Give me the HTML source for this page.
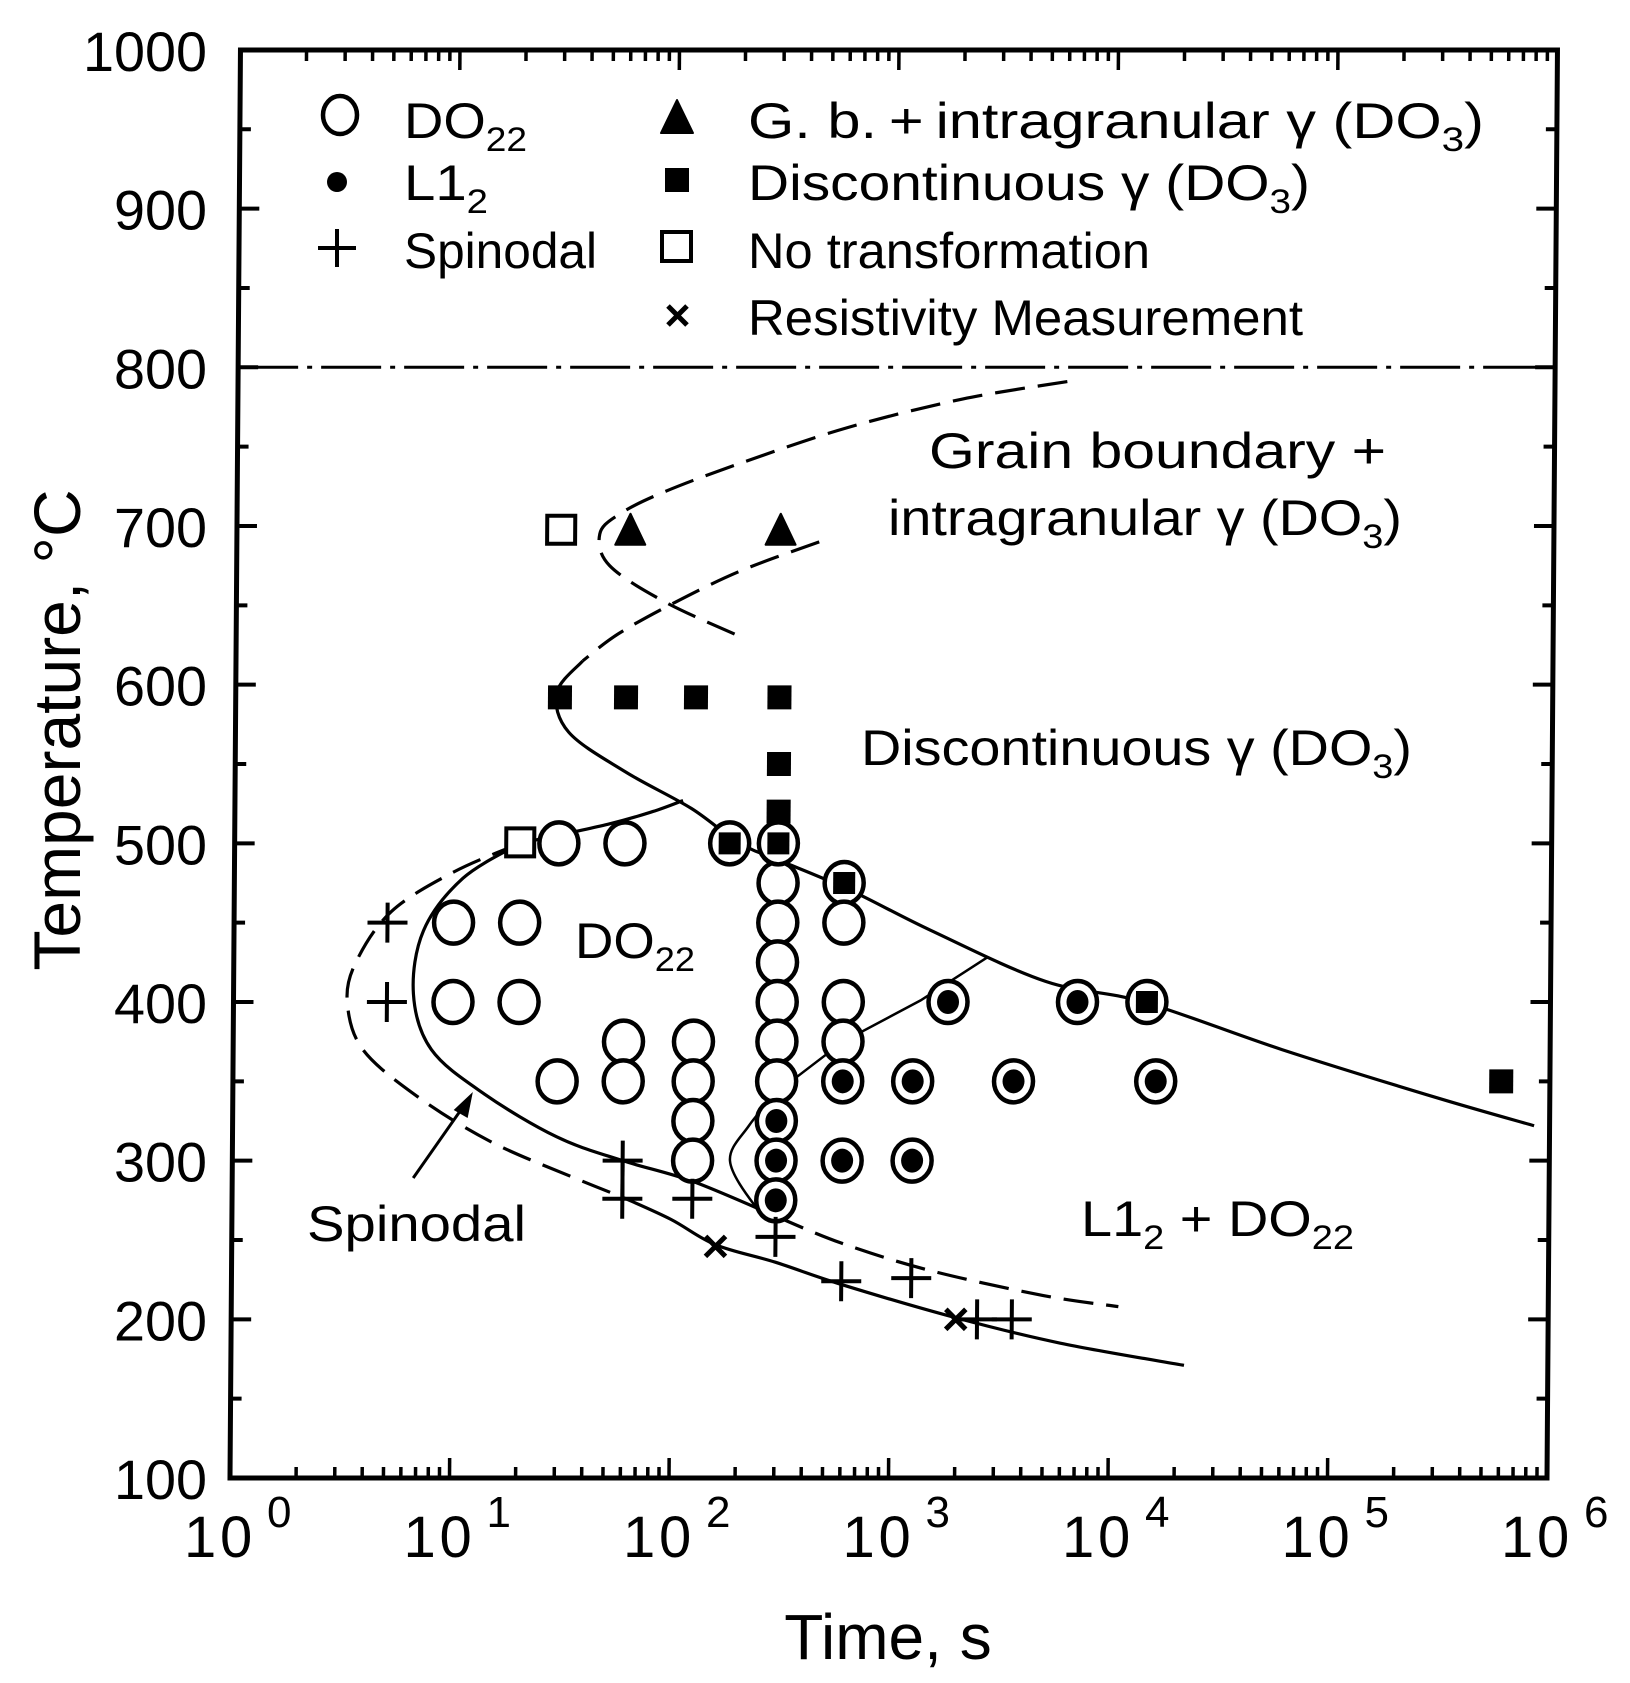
<!DOCTYPE html>
<html><head><meta charset="utf-8">
<style>
html,body{margin:0;padding:0;background:#fff;}
svg{display:block;}
text{font-family:"Liberation Sans",Arial,sans-serif;fill:#000;}
</style></head>
<body>
<svg id="c" width="1630" height="1683" viewBox="0 0 1630 1683" xmlns="http://www.w3.org/2000/svg">
<rect width="1630" height="1683" fill="#fff"/>
<g id="plot" transform="translate(0,1478) skewX(-0.42) translate(0,-1478)"></g>
<g id="labels"></g>
</svg>
<script>
const NS="http://www.w3.org/2000/svg";
const P=document.getElementById('plot');
const L=document.getElementById('labels');
const X0=230, DEC=219.5, YB=1478, YS=1.5867;
function X(t){return X0+Math.log10(t)*DEC;}
function Y(T){return YB-(T-100)*YS;}
function el(tag,attrs,parent,txt){const e=document.createElementNS(NS,tag);for(const k in attrs)e.setAttribute(k,attrs[k]);if(txt!==undefined)e.textContent=txt;(parent||P).appendChild(e);return e;}
el('rect',{x:X0,y:50,width:1317,height:1428,fill:'none',stroke:'#000','stroke-width':5});
for(let T=100;T<=1000;T+=50){const y=Y(T);const len=(T%100===0)?20:11;
 el('line',{x1:X0,y1:y,x2:X0+len,y2:y,stroke:'#000','stroke-width':4});
 el('line',{x1:1547,y1:y,x2:1547-len,y2:y,stroke:'#000','stroke-width':4});}
for(let d=0;d<6;d++){for(let m=1;m<10;m++){const x=X(m*Math.pow(10,d));const len=(m===1)?20:11;
 if(m===1&&d===0)continue;
 el('line',{x1:x,y1:YB,x2:x,y2:YB-len,stroke:'#000','stroke-width':3.5});
 el('line',{x1:x,y1:50,x2:x,y2:50+len,stroke:'#000','stroke-width':3.5});}}
el('line',{x1:X0,y1:Y(800),x2:1547,y2:Y(800),stroke:'#000','stroke-width':3,'stroke-dasharray':'60 9 5 9'});
function curve(pts,dash,w){
 const p=pts.map(a=>[X(a[0]),Y(a[1])]);
 let d='M'+p[0][0]+','+p[0][1];
 for(let i=0;i<p.length-1;i++){const p0=p[i-1]||p[i],p1=p[i],p2=p[i+1],p3=p[i+2]||p2;
  const c1=[p1[0]+(p2[0]-p0[0])/6,p1[1]+(p2[1]-p0[1])/6],c2=[p2[0]-(p3[0]-p1[0])/6,p2[1]-(p3[1]-p1[1])/6];
  d+=' C'+c1[0]+','+c1[1]+' '+c2[0]+','+c2[1]+' '+p2[0]+','+p2[1];}
 const a={d:d,fill:'none',stroke:'#000','stroke-width':w||3.2,'stroke-linecap':'butt'};
 if(dash)a['stroke-dasharray']=dash;el('path',a);}
const DS='30 13';
curve([[6000,791],[2000,780],[600,762],[200,740],[90,722],[56,708],[45,695],[50,675],[90,652],[200,630]],DS);
curve([[450,690],[200,672],[100,652],[55,632],[38,615]],DS);
curve([[38,615],[29,595],[33,570],[60,545],[120,522],[200,500],[320,488],[650,470],[1500,445],[5000,413],[14000,400],[60000,370],[300000,340],[850000,322]]);
curve([[20,500],[50,512],[80,520],[110,527]]);
curve([[20,500],[11,478],[7.3,445],[6.6,405],[8,370],[14,342],[30,315],[60,300],[125,287],[300,265]]);
curve([[300,265],[600,248],[1500,231],[5000,215],[11000,208]],DS);
curve([[20,500],[10,482],[5.2,457],[3.6,425],[3.3,400],[3.9,370],[7,340],[15,312],[35,290],[60,277]],DS);
curve([[60,277],[100,263],[160,247],[300,236],[600,222],[2000,201],[6000,185],[22000,171]]);
curve([[300,262],[240,272],[185,300],[225,322],[300,343]],null,2.5);
el('polyline',{points:[[300,343],[600,375],[1350,401],[2700,428]].map(a=>X(a[0])+','+Y(a[1])).join(' '),fill:'none',stroke:'#000','stroke-width':2.5});
function oc(t,T){el('ellipse',{cx:X(t),cy:Y(T),rx:19.5,ry:21,fill:'#fff',stroke:'#000','stroke-width':4.5});}
function dc(t,T){oc(t,T);el('ellipse',{cx:X(t),cy:Y(T),rx:11,ry:12,fill:'#000'});}
function cs(t,T){oc(t,T);el('rect',{x:X(t)-11,y:Y(T)-11,width:22,height:22,fill:'#000'});}
function fs(t,T){el('rect',{x:X(t)-12,y:Y(T)-12,width:24,height:24,fill:'#000'});}
function os(t,T){el('rect',{x:X(t)-14,y:Y(T)-15,width:28,height:28,fill:'#fff',stroke:'#000','stroke-width':4});}
function tri(t,T){const x=X(t),y=Y(T);el('polygon',{points:`${x-15},${y+14} ${x+15},${y+14} ${x},${y-17}`,fill:'#000',stroke:'#000','stroke-width':2,'stroke-linejoin':'round'});}
function pl(t,T){const x=X(t),y=Y(T);el('path',{d:`M${x-20},${y}H${x+20}M${x},${y-20}V${y+20}`,stroke:'#000','stroke-width':4});}
function cr(t,T){const x=X(t),y=Y(T);el('path',{d:`M${x-10},${y-10}L${x+10},${y+10}M${x+10},${y-10}L${x-10},${y+10}`,stroke:'#000','stroke-width':5});}
fs(30,592);fs(60,592);fs(125,592);fs(300,592);fs(300,550);fs(300,520);
[475,450,425,400,375,350].forEach(T=>oc(300,T));
cs(300,500);
[325,300,275].forEach(T=>dc(300,T));
os(20,500);oc(30,500);oc(60,500);cs(180,500);
oc(10,450);oc(20,450);oc(10,400);oc(20,400);
oc(60,375);oc(125,375);oc(30,350);oc(60,350);
[350,325,300].forEach(T=>oc(125,T));
cs(600,475);oc(600,450);oc(600,400);oc(600,375);dc(600,350);dc(600,300);
dc(1250,350);dc(1250,300);
dc(1800,400);dc(7000,400);cs(14500,400);
dc(3600,350);dc(16000,350);
fs(600000,350);
os(30,697);tri(62,697);tri(300,697);
pl(5,450);pl(5,400);pl(60,300);pl(60,276);pl(125,276);pl(300,252);pl(600,224);pl(1250,226);pl(2500,200);pl(3600,200);
el('line',{x1:X(60),y1:Y(300),x2:X(60),y2:Y(276),stroke:'#000','stroke-width':4});
cr(160,246);cr(2000,200);
el('line',{x1:411,y1:1178,x2:463,y2:1103,stroke:'#000','stroke-width':3});
el('polygon',{points:'470,1092 451,1110 465,1118',fill:'#000'});
function tx(x,y,s,size,parent,attrs){const a=Object.assign({x:x,y:y,'font-size':size},attrs||{});return el('text',a,parent||L,s);}
function rich(x,y,parts,size,len){const t=el('text',{x:x,y:y,'font-size':size},L);if(len){t.setAttribute('textLength',len);t.setAttribute('lengthAdjust','spacingAndGlyphs');}
 let down=false;parts.forEach(p=>{const s=el('tspan',{},t,p[0]);if(p[1]&&!down){s.setAttribute('dy',13);s.setAttribute('font-size',size*0.68);down=true;}else if(!p[1]&&down){s.setAttribute('dy',-13);down=false;}else if(p[1]){s.setAttribute('font-size',size*0.68);}});return t;}
el('ellipse',{cx:340,cy:115,rx:17,ry:19,fill:'none',stroke:'#000','stroke-width':4.5},L);
el('circle',{cx:337,cy:182,r:10,fill:'#000'},L);
el('path',{d:'M318,248H356M337,229V267',stroke:'#000','stroke-width':4},L);
rich(404,138,[['DO'],['22',1]],50,123);
rich(404,200,[['L1'],['2',1]],50,84);
rich(404,268,[['Spinodal']],50,193);
el('polygon',{points:'661,133 693,133 677,100',fill:'#000',stroke:'#000','stroke-width':2,'stroke-linejoin':'round'},L);
el('rect',{x:665,y:168,width:24,height:24,fill:'#000'},L);
el('rect',{x:662,y:232,width:29,height:29,fill:'none',stroke:'#000','stroke-width':4},L);
el('path',{d:'M668,306L687,325M687,306L668,325',stroke:'#000','stroke-width':5},L);
rich(748,138,[['G. b.\u2009+\u2009intragranular \u03b3 (DO'],['3',1],[')']],50,736);
rich(748,200,[['Discontinuous \u03b3 (DO'],['3',1],[')']],50,562);
rich(748,268,[['No transformation']],50,402);
rich(748,335,[['Resistivity Measurement']],50,555);
rich(929,468,[['Grain boundary +']],50,457);
rich(888,535,[['intragranular \u03b3 (DO'],['3',1],[')']],50,514);
rich(861,765,[['Discontinuous \u03b3 (DO'],['3',1],[')']],50,551);
rich(575,958,[['DO'],['22',1]],50,120);
rich(1081,1236,[['L1'],['2',1],[' + DO'],['22',1]],50,273);
rich(307,1241,[['Spinodal']],50,219);
for(let T=100;T<=1000;T+=100){tx(207,Y(T)+21,String(T),56,L,{'text-anchor':'end',textLength:String(T).length*31,lengthAdjust:'spacingAndGlyphs'});}
for(let d=0;d<=6;d++){const x=X0+d*219.5;
 tx(x-46,1557,'1',58,L);tx(x-10,1557,'0',58,L);tx(x+37,1527,String(d),44,L);}
tx(0,0,'Temperature, \u00b0C',66,L,{transform:'translate(80,730) rotate(-90)','text-anchor':'middle'});
tx(888,1659,'Time,  s',64,L,{'text-anchor':'middle'});
</script>
</body></html>
